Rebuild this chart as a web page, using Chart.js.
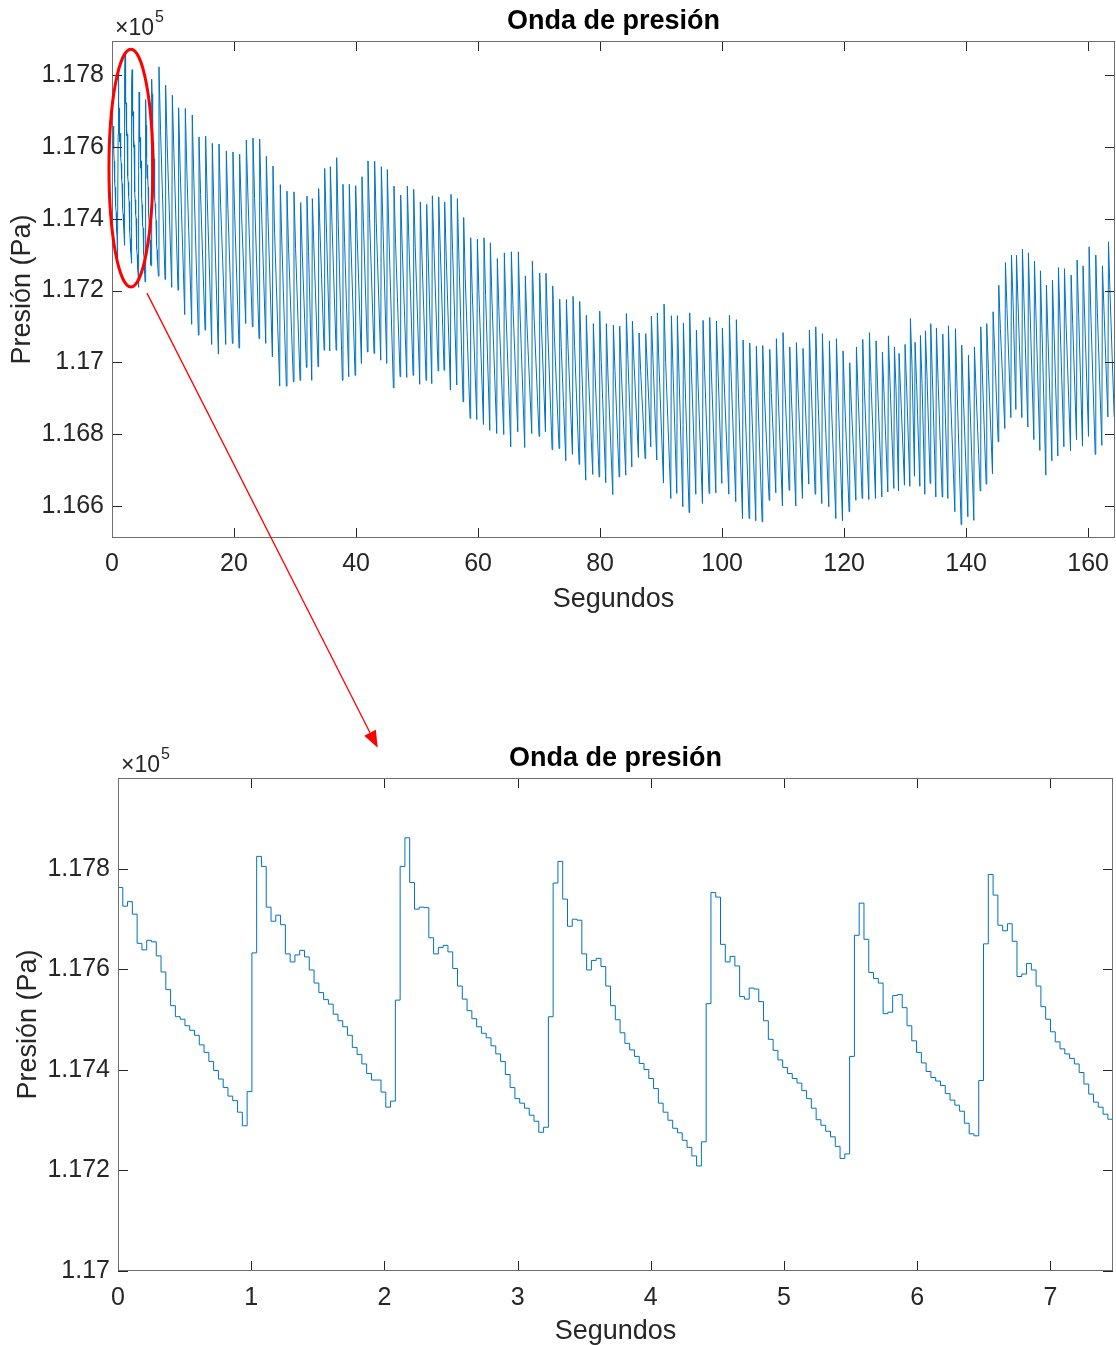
<!DOCTYPE html>
<html>
<head>
<meta charset="utf-8">
<script src="https://cdn.jsdelivr.net/npm/chart.js@4.4.0/dist/chart.umd.min.js"></script>
<style>
  body { margin: 0; background: #fff; width: 1116px; height: 1345px; position: relative; overflow: hidden; }
  canvas { position: absolute; left: 0; }
  #topChart { top: 0; }
  #bottomChart { top: 650px; }
  #overlay { top: 0; pointer-events: none; }
</style>
</head>
<body>
<canvas id="topChart" width="1116" height="650"></canvas>
<canvas id="bottomChart" width="1116" height="695"></canvas>
<canvas id="overlay" width="1116" height="1345"></canvas>
<script>
// Muestras del detalle (Pa), periodo de muestreo constante
const samplePeriod = 0.0359;
const zoomPressure = [
  117763, 117726, 117735, 117710, 117652, 117639, 117658, 117655, 117627, 117595,
  117560, 117528, 117506, 117501, 117488, 117479, 117469, 117450, 117435, 117417,
  117399, 117382, 117365, 117348, 117339, 117316, 117289, 117357, 117633, 117825,
  117805, 117724, 117696, 117708, 117689, 117631, 117615, 117629, 117638, 117625,
  117599, 117573, 117554, 117540, 117531, 117511, 117498, 117486, 117469, 117445,
  117431, 117412, 117393, 117380, 117380, 117356, 117326, 117338, 117539, 117805,
  117862, 117773, 117720, 117724, 117723, 117663, 117631, 117644, 117648, 117635,
  117602, 117567, 117541, 117518, 117502, 117486, 117473, 117464, 117448, 117432,
  117417, 117391, 117365, 117343, 117334, 117324, 117310, 117298, 117276, 117286,
  117506, 117772, 117815, 117740, 117686, 117700, 117698, 117631, 117599, 117618,
  117622, 117606, 117567, 117528, 117500, 117474, 117453, 117440, 117427, 117413,
  117401, 117383, 117363, 117334, 117316, 117300, 117284, 117275, 117260, 117246,
  117229, 117209, 117257, 117532, 117753, 117744, 117650, 117615, 117626, 117607,
  117546, 117541, 117563, 117561, 117536, 117498, 117461, 117439, 117420, 117405,
  117393, 117383, 117374, 117359, 117343, 117324, 117301, 117290, 117278, 117267,
  117248, 117224, 117233, 117427, 117668, 117732, 117660, 117594, 117582, 117573,
  117512, 117515, 117548, 117550, 117524, 117488, 117458, 117435, 117414, 117397,
  117385, 117378, 117369, 117353, 117340, 117330, 117318, 117294, 117273, 117269,
  117379, 117651, 117789, 117748, 117688, 117677, 117691, 117656, 117586, 117591,
  117612, 117599, 117567, 117526, 117501, 117476, 117456, 117442, 117432, 117423,
  117412, 117395, 117372, 117352, 117336, 117326, 117312, 117302, 117284
];

// Registro completo: un latido por entrada (desde el 7.º latido)
const beatTimes = [
  7.66, 8.75, 9.85, 10.88, 11.98, 13.12, 14.22, 15.31, 16.40, 17.50,
  18.70, 19.79, 20.88, 21.98, 23.07, 24.16, 25.26, 26.35, 27.55, 28.64,
  29.79, 30.88, 31.92, 32.80, 33.83, 34.82, 35.75, 36.79, 37.82, 38.86,
  39.90, 40.94, 41.92, 43.01, 44.11, 45.09, 46.18, 47.28, 48.37, 49.41,
  50.50, 51.54, 52.47, 53.51, 54.49, 55.53, 56.57, 57.60, 58.75, 59.85,
  60.94, 61.98, 63.12, 64.27, 65.42, 66.57, 67.71, 68.86, 70.06, 71.10,
  72.20, 73.34, 74.44, 75.53, 76.62, 77.71, 78.86, 79.90, 80.99, 82.14,
  83.18, 84.27, 85.26, 86.35, 87.44, 88.37, 89.35, 90.45, 91.65, 92.63,
  93.62, 94.65, 95.75, 96.84, 97.93, 99.03, 100.01, 101.16, 102.30, 103.40,
  104.49, 105.58, 106.62, 107.77, 108.86, 109.95, 111.05, 112.14, 113.23, 114.27,
  115.31, 116.40, 117.55, 118.70, 119.79, 120.88, 121.98, 123.01, 124.11, 125.20,
  126.24, 127.22, 128.21, 128.97, 129.95, 130.83, 131.59, 132.47, 133.29, 134.16,
  135.09, 136.13, 137.06, 138.21, 139.24, 140.34, 141.32, 142.36, 143.34, 144.38,
  145.31, 146.40, 147.39, 148.21, 149.19, 150.17, 151.16, 152.14, 153.12, 154.11,
  155.09, 156.08, 157.17, 158.15, 159.13, 160.12, 161.21, 162.30, 163.29, 164.33
];
const beatTroughs = [
  117240, 117231, 117209, 117201, 117133, 117106, 117076, 117090, 117050, 117023,
  117050, 117053, 117040, 117108, 117099, 117066, 117053, 117015, 116934, 116934,
  116946, 116950, 116986, 116950, 116988, 117034, 117032, 117034, 116950, 116960,
  116964, 116997, 117029, 117025, 117006, 116997, 116929, 116960, 116958, 116964,
  116939, 116950, 116941, 116976, 116978, 116923, 116937, 116890, 116844, 116841,
  116827, 116811, 116802, 116799, 116765, 116807, 116763, 116802, 116794, 116807,
  116757, 116760, 116726, 116744, 116716, 116672, 116688, 116681, 116665, 116632,
  116681, 116686, 116709, 116735, 116732, 116765, 116728, 116664, 116621, 116635,
  116598, 116582, 116633, 116607, 116635, 116637, 116663, 116633, 116612, 116565,
  116565, 116559, 116556, 116616, 116637, 116600, 116644, 116600, 116621, 116661,
  116633, 116607, 116598, 116565, 116559, 116584, 116616, 116621, 116618, 116621,
  116625, 116639, 116649, 116642, 116658, 116655, 116683, 116655, 116633, 116663,
  116625, 116625, 116621, 116584, 116548, 116570, 116560, 116642, 116661, 116690,
  116779, 116816, 116846, 116869, 116846, 116820, 116785, 116755, 116686, 116726,
  116739, 116765, 116754, 116785, 116767, 116794, 116744, 116769, 116848, 116848
];
const beatPeaks = [
  117823, 117772, 117744, 117709, 117707, 117689, 117628, 117630, 117610, 117608,
  117589, 117586, 117580, 117619, 117625, 117622, 117574, 117547, 117495, 117477,
  117475, 117445, 117463, 117456, 117484, 117540, 117545, 117570, 117496, 117496,
  117492, 117517, 117561, 117560, 117545, 117537, 117491, 117466, 117491, 117482,
  117447, 117440, 117464, 117461, 117447, 117468, 117456, 117404, 117347, 117343,
  117347, 117333, 117289, 117305, 117308, 117308, 117241, 117282, 117249, 117248,
  117213, 117176, 117175, 117184, 117170, 117131, 117108, 117143, 117108, 117104,
  117101, 117136, 117115, 117082, 117080, 117129, 117138, 117162, 117130, 117130,
  117110, 117138, 117090, 117117, 117125, 117115, 117096, 117131, 117119, 117062,
  117054, 117045, 117047, 117036, 117066, 117083, 117043, 117055, 117039, 117090,
  117099, 117080, 117060, 117066, 117032, 116999, 117043, 117064, 117083, 117060,
  117029, 117074, 117043, 117025, 117050, 117122, 117056, 117075, 117088, 117108,
  117096, 117079, 117102, 117094, 117048, 117020, 117043, 117099, 117108, 117141,
  117215, 117278, 117299, 117299, 117315, 117305, 117282, 117255, 117215, 117229,
  117264, 117261, 117243, 117285, 117269, 117322, 117299, 117269, 117336, 117361
];
const beatNotches = [
  117645, 117603, 117581, 117536, 117527, 117505, 117467, 117456, 117434, 117441,
  117428, 117422, 117438, 117463, 117457, 117451, 117406, 117363, 117327, 117318,
  117317, 117307, 117309, 117316, 117349, 117388, 117392, 117384, 117335, 117336,
  117343, 117371, 117400, 117394, 117381, 117355, 117332, 117314, 117333, 117319,
  117298, 117290, 117318, 117316, 117290, 117309, 117286, 117236, 117195, 117188,
  117186, 117174, 117142, 117143, 117158, 117144, 117109, 117136, 117116, 117101,
  117077, 117041, 117046, 117044, 117021, 116998, 116980, 117000, 116965, 116977,
  116976, 117008, 117001, 116977, 116985, 117009, 116996, 117000, 116981, 116970,
  116952, 116986, 116945, 116972, 116979, 116979, 116957, 116975, 116953, 116913,
  116905, 116898, 116918, 116916, 116926, 116951, 116910, 116925, 116926, 116953,
  116951, 116935, 116911, 116914, 116898, 116884, 116916, 116930, 116944, 116929,
  116912, 116946, 116923, 116915, 116931, 116990, 116936, 116942, 116960, 116963,
  116955, 116942, 116947, 116930, 116905, 116882, 116923, 116968, 116983, 117032,
  117095, 117148, 117170, 117163, 117166, 117149, 117124, 117084, 117068, 117082,
  117114, 117109, 117106, 117130, 117126, 117149, 117140, 117143, 117190, 117202
];

// Marcas de los ejes
const topXTicks = [0, 20, 40, 60, 80, 100, 120, 140, 160];
const topYTicks = [116600, 116800, 117000, 117200, 117400, 117600, 117800];
const bottomXTicks = [0, 1, 2, 3, 4, 5, 6, 7];
const bottomYTicks = [117000, 117200, 117400, 117600, 117800];

// Etiquetas de los ejes
const titleText = 'Onda de presión';
const xLabel = 'Segundos';
const yLabel = 'Presión (Pa)';

// Forma de cada latido en la vista completa (s)
const riseLead = 0.06;
const peakLag = 0.04;
const notchLag = 0.30;

// Marca roja (elipse sobre el registro completo y flecha hacia el detalle)
const zoomMark = { t: 3.1, p: 117541, halfT: 3.6, halfP: 331 };
const arrowFrom = { t: 5.73, p: 117193 };
const arrowTo = { t: 1.95, p: 118041 };

const fontFamily = '"Liberation Sans", Arial, Helvetica, sans-serif';
const axisInk = '#262626';
const boxInk = '#6e6e6e';
const traceColor = '#0072BD';
const tickLen = 10;

Chart.defaults.font.family = fontFamily;
Chart.defaults.color = axisInk;

const zoomPoints = zoomPressure.map((p, k) => ({ x: k * samplePeriod, y: p }));
const fullPoints = zoomPoints.slice();
beatTimes.forEach((t, i) => {
  fullPoints.push({ x: t - riseLead, y: beatTroughs[i] });
  fullPoints.push({ x: t + peakLag, y: beatPeaks[i] });
  fullPoints.push({ x: t + notchLag, y: beatNotches[i] });
});

function pressureTick(v) {
  return String(+(v / 1e5).toFixed(4));
}

// Caja, marcas hacia dentro, titulo y exponente al estilo MATLAB
const matlabFrame = {
  id: 'matlabFrame',
  afterDraw(chart) {
    const { ctx, chartArea: a, scales } = chart;
    const x = scales.x, y = scales.y;
    ctx.save();
    ctx.lineWidth = 1;
    ctx.strokeStyle = axisInk;
    ctx.beginPath();
    x.ticks.forEach(t => {
      const px = Math.round(x.getPixelForValue(t.value)) + 0.5;
      ctx.moveTo(px, a.bottom); ctx.lineTo(px, a.bottom - tickLen);
      ctx.moveTo(px, a.top); ctx.lineTo(px, a.top + tickLen);
    });
    y.ticks.forEach(t => {
      const py = Math.round(y.getPixelForValue(t.value)) + 0.5;
      ctx.moveTo(a.left, py); ctx.lineTo(a.left + tickLen, py);
      ctx.moveTo(a.right, py); ctx.lineTo(a.right - tickLen, py);
    });
    ctx.stroke();
    ctx.strokeStyle = boxInk;
    ctx.strokeRect(Math.round(a.left) + 0.5, Math.round(a.top) + 0.5,
                   Math.round(a.width) - 1, Math.round(a.height) - 1);

    ctx.fillStyle = '#000';
    ctx.font = 'bold 27px ' + fontFamily;
    ctx.textAlign = 'center';
    ctx.textBaseline = 'alphabetic';
    ctx.fillText(titleText, (a.left + a.right) / 2, a.top - 12);

    ctx.fillStyle = axisInk;
    ctx.textAlign = 'left';
    ctx.font = '23px ' + fontFamily;
    ctx.fillText('\u00d710', a.left + 3, a.top - 6);
    const w = ctx.measureText('\u00d710').width;
    ctx.font = '16px ' + fontFamily;
    ctx.fillText('5', a.left + 4 + w, a.top - 19);
    ctx.restore();
  }
};

function makeChart(id, points, opt) {
  return new Chart(document.getElementById(id), {
    type: 'line',
    data: {
      datasets: [{
        data: points,
        borderColor: traceColor,
        borderWidth: 1,
        pointRadius: 0,
        tension: 0,
        stepped: opt.stepped
      }]
    },
    options: {
      responsive: false,
      animation: false,
      events: [],
      layout: { padding: { top: opt.top, right: opt.right, bottom: 0, left: 0 } },
      plugins: {
        legend: { display: false },
        tooltip: { enabled: false }
      },
      scales: {
        x: {
          type: 'linear',
          min: 0,
          max: opt.xMax,
          grid: { display: false },
          border: { display: false },
          afterBuildTicks: s => { s.ticks = opt.xTicks.map(v => ({ value: v })); },
          ticks: {
            autoSkip: false,
            maxRotation: 0,
            padding: opt.xTickPad,
            color: axisInk,
            font: { size: 25 }
          },
          title: {
            display: true,
            text: xLabel,
            color: axisInk,
            font: { size: 27 },
            padding: { top: 0, bottom: opt.xTitlePad }
          },
          afterFit: s => { s.height = opt.xHeight; }
        },
        y: {
          min: opt.yMin,
          max: opt.yMax,
          grid: { display: false },
          border: { display: false },
          afterBuildTicks: s => { s.ticks = opt.yTicks.map(v => ({ value: v })); },
          ticks: {
            padding: 0,
            color: axisInk,
            font: { size: 25 },
            callback: pressureTick
          },
          title: {
            display: true,
            text: yLabel,
            color: axisInk,
            font: { size: 27 },
            padding: { top: opt.yTitlePad, bottom: 0 }
          },
          afterFit: s => { s.width = opt.yWidth; }
        }
      }
    },
    plugins: [matlabFrame]
  });
}

const topChart = makeChart('topChart', fullPoints, {
  stepped: false, top: 41, right: 1, xMax: 164.4,
  xTicks: topXTicks, yTicks: topYTicks,
  xTickPad: 3, xTitlePad: 34, xHeight: 112,
  yMin: 116511, yMax: 117895, yTitlePad: 6, yWidth: 112
});

const bottomChart = makeChart('bottomChart', zoomPoints, {
  stepped: true, top: 128, right: 3, xMax: 7.47,
  xTicks: bottomXTicks, yTicks: bottomYTicks,
  xTickPad: 4, xTitlePad: -3, xHeight: 74,
  yMin: 117000, yMax: 117981, yTitlePad: 12, yWidth: 118
});

// Anotacion roja
const ov = document.getElementById('overlay').getContext('2d');
const bottomOffset = 650;
const tx = topChart.scales.x, ty = topChart.scales.y;
const bx = bottomChart.scales.x, by = bottomChart.scales.y;

const cx = tx.getPixelForValue(zoomMark.t);
const cy = ty.getPixelForValue(zoomMark.p);
const rx = tx.getPixelForValue(zoomMark.t + zoomMark.halfT) - cx;
const ry = cy - ty.getPixelForValue(zoomMark.p + zoomMark.halfP);
ov.strokeStyle = '#ff0000';
ov.lineWidth = 3;
ov.beginPath();
ov.ellipse(cx, cy, rx, ry, 0, 0, 2 * Math.PI);
ov.stroke();

const x0 = tx.getPixelForValue(arrowFrom.t), y0 = ty.getPixelForValue(arrowFrom.p);
const x1 = bx.getPixelForValue(arrowTo.t), y1 = by.getPixelForValue(arrowTo.p) + bottomOffset;
const ang = Math.atan2(y1 - y0, x1 - x0);
const headLen = 17, headHalf = 6.5;
const hx = x1 - headLen * Math.cos(ang), hy = y1 - headLen * Math.sin(ang);
ov.lineWidth = 1.3;
ov.beginPath();
ov.moveTo(x0, y0);
ov.lineTo(hx, hy);
ov.stroke();
ov.fillStyle = '#ff0000';
ov.beginPath();
ov.moveTo(x1, y1);
ov.lineTo(hx + headHalf * Math.sin(ang), hy - headHalf * Math.cos(ang));
ov.lineTo(hx - headHalf * Math.sin(ang), hy + headHalf * Math.cos(ang));
ov.closePath();
ov.fill();
</script>
</body>
</html>
